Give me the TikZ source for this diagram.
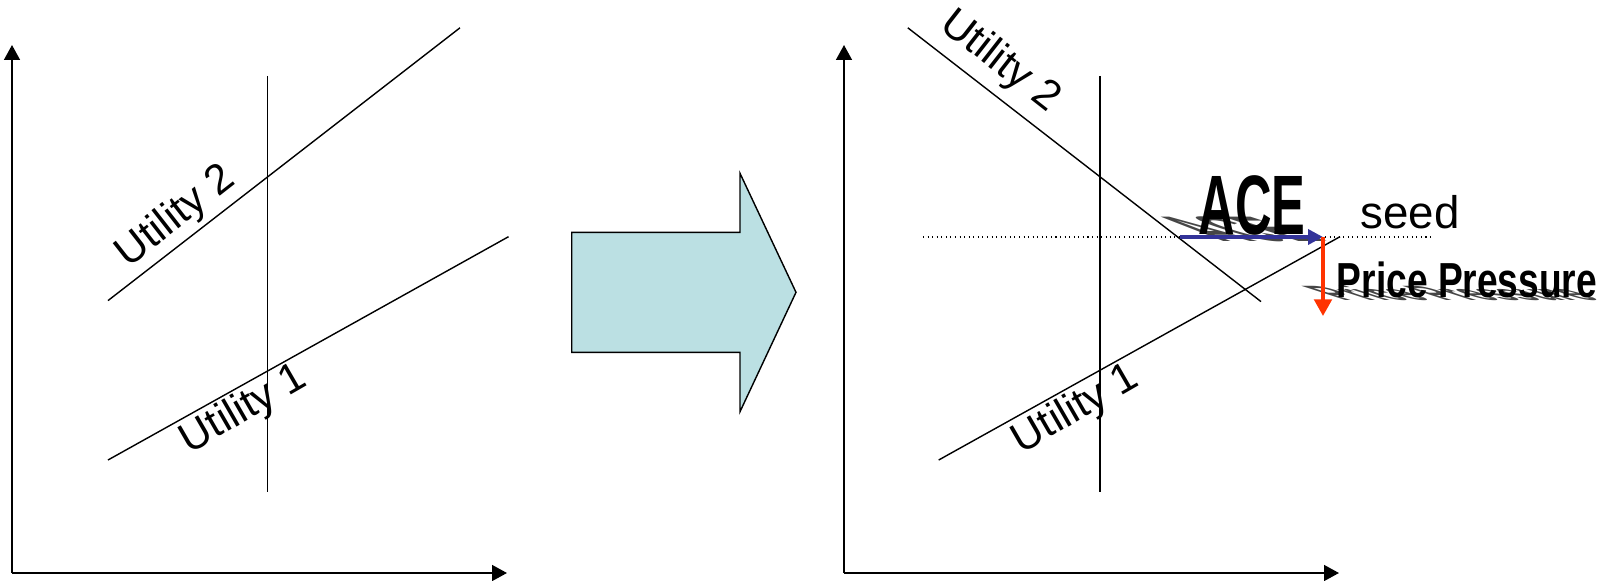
\documentclass[tikz,border=0pt]{standalone}
\usepackage{fontspec}
\setmainfont{Liberation Sans}
\usetikzlibrary{positioning,arrows.meta}
\definecolor{shaftfill}{RGB}{187,224,227}
\definecolor{aceblue}{RGB}{51,51,153}
\definecolor{pressred}{RGB}{255,51,0}
\definecolor{shadowgray}{RGB}{70,70,70}

\begin{document}
\begin{tikzpicture}[x=0.02cm,y=-0.02cm,>={Triangle[length=8.5pt,width=9pt]},
  axis/.style={->,line width=1.1pt},
  curve/.style={line width=0.8pt},
  lbl/.style={font=\fontsize{24}{28}\selectfont,inner sep=0pt},
  bigword/.style={font=\fontsize{#1}{#1}\selectfont\bfseries,inner sep=0pt,transform shape},
  shadow/.style={text=shadowgray,yscale=0.42,xslant=-1.3}]
\useasboundingbox (0,0) rectangle (1614,581);
% left panel
\coordinate (lo) at (12,573);
\coordinate (ltop) at (12,45);
\coordinate (lright) at (507,573);
\draw[axis] (lo) -- (ltop);
\draw[axis] (lo) -- (lright);
\draw[curve] (267.6,76) -- (267.6,492);
\draw[curve] (108,300.6) -- (460,27.8);
\draw[curve] (108,460) -- (508.5,236.7);
\node[lbl,rotate=38] (lu2) at (176,217) {Utility 2};
\node[lbl,rotate=30] (lu1) at (244,410) {Utility 1};
% big arrow
\draw[line width=0.8pt,fill=shaftfill] (571.7,232.3) -- (740,232.3) -- (740,173.3)
  -- (796,292.3) -- (740,411.7) -- (740,352.3) -- (571.7,352.3) -- cycle;
% right panel
\coordinate (ro) at (844,573);
\coordinate (rtop) at (844,45);
\coordinate (rright) at (1339,573);
\draw[axis] (ro) -- (rtop);
\draw[axis] (ro) -- (rright);
\draw[curve] (1100,76) -- (1100,492);
\draw[curve] (907.8,27.8) -- (1261,301.6);
\draw[curve] (938.7,460) -- (1340,236.7);
\node[lbl,rotate=-38] (ru2) at (1000,62) {Utility 2};
\node[lbl,rotate=30] (ru1) at (1076,410) {Utility 1};
% seed point and pressures
\coordinate (dl) at (923,237);
\coordinate (dr) at (1433,237);
\coordinate (acestart) at (1180,237);
\coordinate (seedpt) at (1323,237);
\coordinate (pressend) at (1323,316);
\draw[line width=0.6pt,dotted] (dl) -- (dr);
\node[bigword=48,shadow,xscale=0.6] (aceshadow) at (1238,229) {ACE};
\node[bigword=28,shadow,xscale=0.755] (ppshadow) at (1450,293) {Price Pressure};
\draw[->,aceblue,line width=2pt,>={Triangle[length=8.5pt,width=8.5pt]}] (acestart) -- (seedpt);
\draw[->,pressred,line width=2pt,>={Triangle[length=9.5pt,width=10pt]}] (seedpt) -- (pressend);
\node[bigword=48,xscale=0.6,anchor=base] (ace) at (1252,235) {ACE};
\node[font=\fontsize{26}{30}\selectfont,inner sep=0pt,anchor=base] (seed) at (1410,229) {seed};
\node[bigword=28,xscale=0.755,anchor=base] (pp) at (1467,297) {Price Pressure};
\end{tikzpicture}
\end{document}
